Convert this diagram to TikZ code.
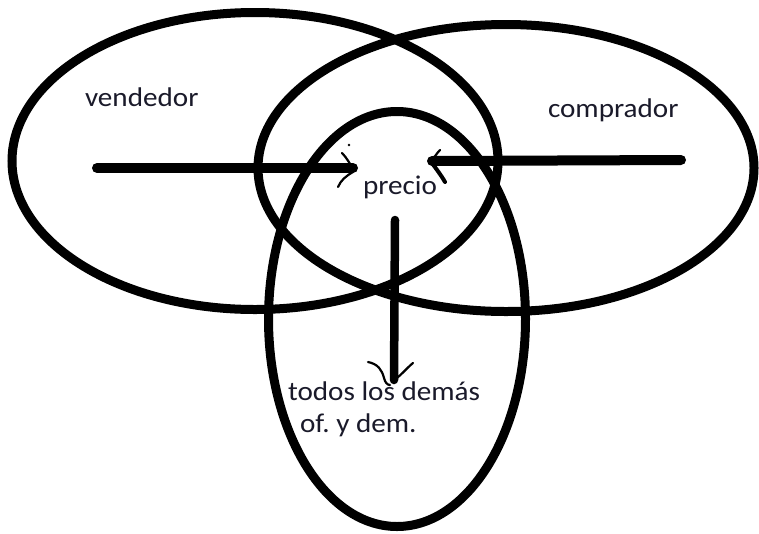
\documentclass[tikz,border=0pt]{standalone}
\usepackage{fontspec}
\setmainfont{Carlito}[FakeStretch=1.08]
\usetikzlibrary{shapes.geometric}
\definecolor{textcol}{HTML}{1A1A2A}
\frenchspacing
\begin{document}
\begin{tikzpicture}[x=1pt,y=-1pt,
  ring/.style={draw=black,line width=9pt,ellipse,inner sep=0pt,outer sep=0pt},
  shaft/.style={draw=black,line width=10pt,line cap=round},
  vshaft/.style={draw=black,line width=8.5pt,line cap=round},
  tip/.style={draw=black,line width=2.2pt,line cap=round},
  thicktip/.style={draw=black,line width=4pt,line cap=round},
  lab/.style={inner sep=0pt,outer sep=0pt,anchor=base west,text=textcol,font=\fontsize{27}{33}\selectfont}]
\useasboundingbox (0,0) rectangle (759,533);
\fill[white] (0,0) rectangle (759,533);
% ellipses
\node[ring,minimum width=486pt,minimum height=297pt] (vend) at (255,161) {};
\node[ring,minimum width=496pt,minimum height=287pt] (comp) at (506,168) {};
\node[ring,minimum width=257pt,minimum height=415pt] (otros) at (397,319) {};
% labels
\node[lab] (tv) at (85,106) {vendedor};
\node[lab] (tc) at (548,117) {comprador};
\node[lab] (tp) at (363,194) {precio};
\node[lab] (tt) at (288,400) {todos los demás};
\node[lab] (to) at (300,432) {of. y dem.};
% connectors
\coordinate (vs) at (97,168);
\coordinate (ve) at (353,168);
\coordinate (cs) at (681,160);
\coordinate (ce) at (432,161);
\coordinate (ps) at (395,220);
\coordinate (pe) at (394,380);
\draw[shaft] (vs) -- (ve);
\draw[shaft] (cs) -- (ce);
\draw[vshaft] (ps) -- (pe);
% hand-drawn tips
\draw[tip] (342,153) .. controls (347,158) and (349,163) .. (ve);
\draw[tip] (353,172) .. controls (346,176) and (341,180) .. (338,187);
\fill[black] (349,145) circle (1.3pt);
\draw[tip] (440,150) .. controls (436,154) and (434,158) .. (ce);
\draw[thicktip] (432,163) .. controls (437,170) and (441,175) .. (445,182);
\draw[tip] (368,362) .. controls (378,364) and (382,370) .. (384,378) .. controls (385,382) and (387,385) .. (390,385);
\draw[tip] (413,363) .. controls (409,366) and (405,371) .. (397,378);
\end{tikzpicture}
\end{document}
